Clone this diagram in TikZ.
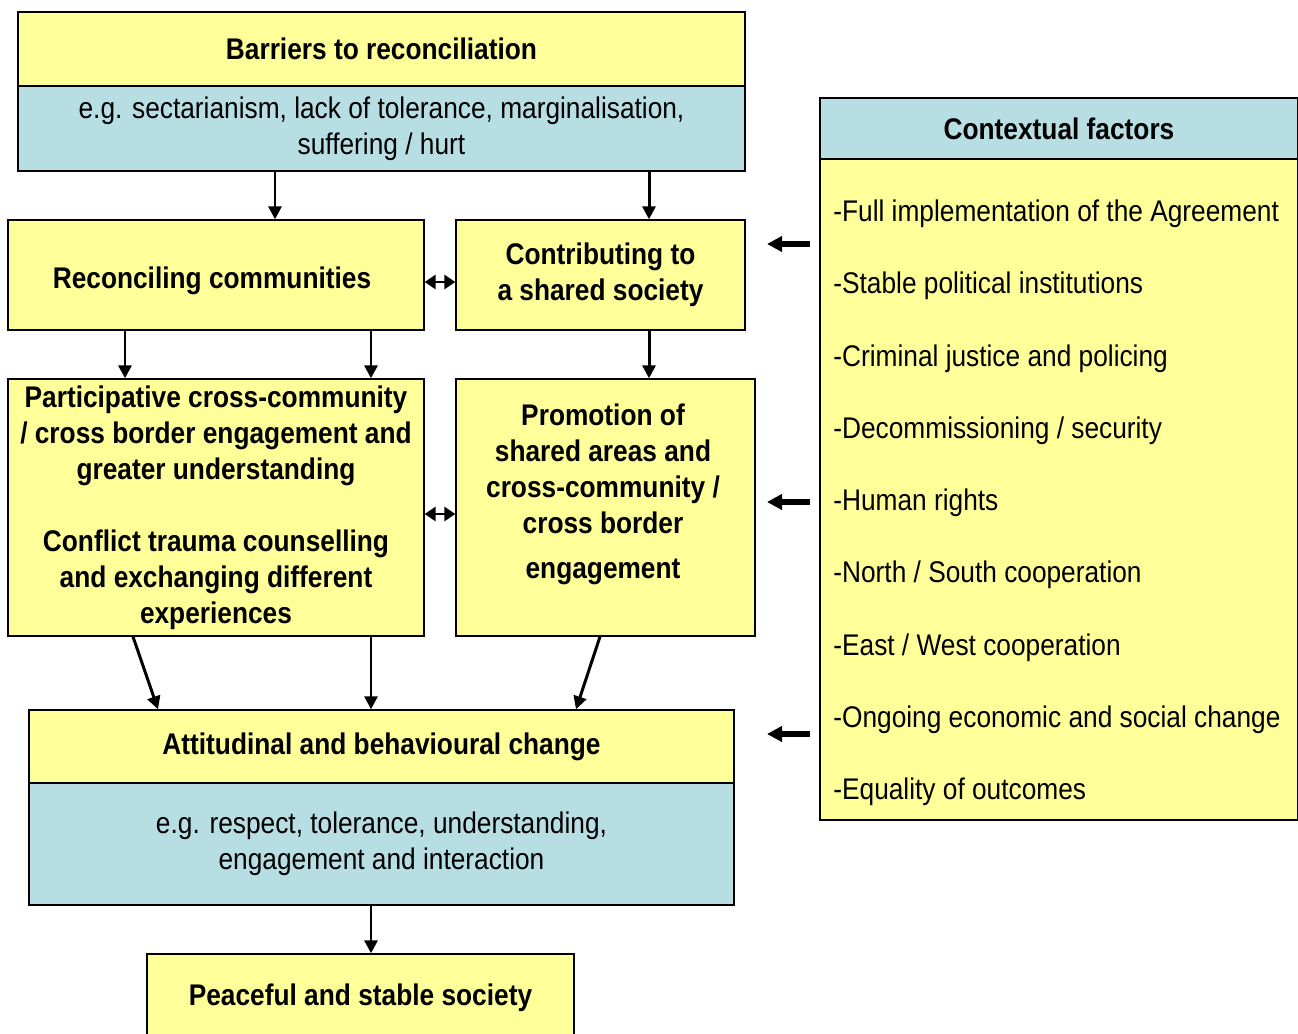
\documentclass[tikz,border=0pt]{standalone}
\usepackage{fontspec}
\setmainfont{Liberation Sans}[FakeStretch=0.88]
\usetikzlibrary{arrows.meta}
\definecolor{boxyellow}{HTML}{FFFF99}
\definecolor{boxblue}{HTML}{B7DEE2}

\begin{document}
\begin{tikzpicture}[x=0.02cm, y=-0.02cm,
  box/.style={draw, line width=0.8pt, inner sep=0pt, align=center,
    font=\fontsize{17}{20.5}\selectfont},
  ybox/.style={box, fill=boxyellow},
  bbox/.style={box, fill=boxblue},
  bold/.style={font=\fontsize{17}{20.5}\selectfont\bfseries},
  arr/.style={line width=1.7pt, -{Triangle[length=0.26cm,width=0.26cm]}},
  dblarr/.style={line width=1.7pt,
    {Triangle[length=0.22cm,width=0.28cm]}-{Triangle[length=0.22cm,width=0.28cm]}},
  fatarr/.style={line width=3.4pt, -{Triangle[length=0.3cm,width=0.3cm]}}]
\useasboundingbox (0,0) rectangle (1298,1034);

% barriers
\node[ybox, bold, minimum width=14.54cm, minimum height=1.48cm] (barT) at (381.5,49) {Barriers to reconciliation};
\node[bbox, minimum width=14.54cm, minimum height=1.70cm] (barB) at (381.5,128.5)
  {e.g. sectarianism, lack of tolerance, marginalisation,\\ suffering / hurt};

% middle row
\node[ybox, minimum width=8.32cm, minimum height=2.20cm] (recon) at (216,275) {};
\node[bold, inner sep=0pt] (recontxt) at (212,281) {Reconciling communities};
\node[ybox, bold, minimum width=5.78cm, minimum height=2.20cm] (contrib) at (600.5,275) {Contributing to\\ a shared society};

\node[ybox, bold, minimum width=8.32cm, minimum height=5.14cm] (partic) at (216,507.5)
  {Participative cross-community\\ / cross border engagement and\\ greater understanding\\[20.5pt]
   Conflict trauma counselling\\ and exchanging different\\ experiences};
\node[ybox, minimum width=5.98cm, minimum height=5.14cm] (promo) at (605.5,507.5) {};
\node[bold, align=center, inner sep=0pt] (promotxt) at (603,494)
  {Promotion of\\ shared areas and\\ cross-community /\\ cross border\\[5pt] engagement};

% outcome
\node[ybox, bold, minimum width=14.10cm, minimum height=1.46cm] (attT) at (381.5,746.5) {Attitudinal and behavioural change};
\node[bbox, minimum width=14.10cm, minimum height=2.44cm] (attB) at (381.5,844)
  {e.g. respect, tolerance, understanding,\\ engagement and interaction};
\node[ybox, bold, minimum width=8.54cm, minimum height=1.76cm] (peace) at (360.5,998) {Peaceful and stable society};

% contextual factors
\node[bbox, bold, minimum width=9.56cm, minimum height=1.22cm] (ctxT) at (1059,128.5) {Contextual factors};
\node[ybox, minimum width=9.56cm, minimum height=13.22cm] (ctxB) at (1059,489.5) {};
\foreach \txt [count=\i] in {-Full implementation of the Agreement, -Stable political institutions,
    -Criminal justice and policing, -Decommissioning / security, -Human rights,
    -North / South cooperation, -East / West cooperation,
    -Ongoing economic and social change, -Equality of outcomes}
  \node[anchor=west, inner sep=0pt, font=\fontsize{17}{20.5}\selectfont] (ctx\i) at (833,{214+72.25*(\i-1)}) {\txt};

% connectors
\draw[arr] (barB.south -| 275,0) -- (recon.north -| 275,0);
\draw[arr] (barB.south -| 649,0) -- (contrib.north -| 649,0);
\draw[arr] (recon.south -| 125,0) -- (partic.north -| 125,0);
\draw[arr] (recon.south -| 371,0) -- (partic.north -| 371,0);
\draw[arr] (contrib.south -| 649,0) -- (promo.north -| 649,0);
\draw[dblarr] (recon.east |- 0,282) -- (contrib.west |- 0,282);
\draw[dblarr] (partic.east |- 0,514) -- (promo.west |- 0,514);
\draw[arr] (partic.south -| 133,0) -- (attT.north -| 158,0);
\draw[arr] (partic.south -| 371,0) -- (attT.north -| 371,0);
\draw[arr] (promo.south -| 600,0) -- (attT.north -| 576,0);
\draw[arr] (attB.south -| 371,0) -- (peace.north -| 371,0);

\draw[fatarr] (810,244) -- (767,244);
\draw[fatarr] (810,502) -- (767,502);
\draw[fatarr] (810,734) -- (767,734);
\end{tikzpicture}
\end{document}
